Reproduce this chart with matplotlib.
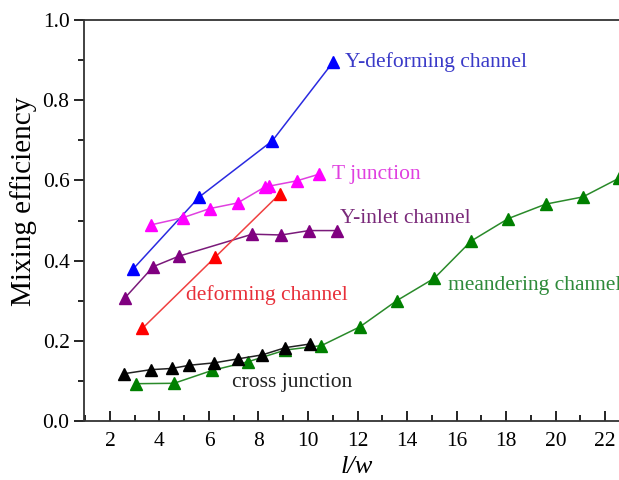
import matplotlib.pyplot as plt
from matplotlib.ticker import MultipleLocator

plt.rcParams['font.family'] = ['Liberation Serif', 'DejaVu Serif']

# data
y_def_x = [2.92, 5.61, 8.56, 11.02]
y_def_y = [0.378, 0.559, 0.699, 0.896]

t_junc_x = [3.64, 4.94, 6.04, 7.16, 8.26, 8.44, 9.54, 10.46]
t_junc_y = [0.489, 0.507, 0.530, 0.544, 0.584, 0.586, 0.599, 0.616]

y_inlet_x = [2.62, 3.75, 4.78, 7.75, 8.92, 10.04, 11.16]
y_inlet_y = [0.308, 0.385, 0.411, 0.466, 0.464, 0.475, 0.475]

deform_x = [3.31, 6.24, 8.87]
deform_y = [0.231, 0.408, 0.567]

cross_x = [2.58, 3.65, 4.5, 5.21, 6.21, 7.18, 8.16, 9.09, 10.08]
cross_y = [0.118, 0.128, 0.131, 0.139, 0.145, 0.155, 0.165, 0.183, 0.192]

meander_x = [3.07, 4.59, 6.12, 7.59, 9.09, 10.54, 12.1, 13.58, 15.1, 16.59, 18.09, 19.6, 21.1, 22.54]
meander_y = [0.093, 0.094, 0.126, 0.148, 0.177, 0.188, 0.235, 0.300, 0.356, 0.449, 0.505, 0.541, 0.559, 0.605]

fig = plt.figure(figsize=(6.19, 4.8), dpi=100)
# axes runs past the right edge, the reference is cropped there
ax = fig.add_axes([0.136, 0.123, 0.92, 0.835])

ms = 8
ax.plot(y_def_x, y_def_y, '-^', color='#2a2ae0', mfc='#0000ff', mec='#0000ff', lw=1.1, ms=ms)
ax.plot(t_junc_x, t_junc_y, '-^', color='#e040e0', mfc='#ff00ff', mec='#ff00ff', lw=1.1, ms=ms)
ax.plot(y_inlet_x, y_inlet_y, '-^', color='#7a1a7a', mfc='#800080', mec='#800080', lw=1.1, ms=ms)
ax.plot(deform_x, deform_y, '-^', color='#f04040', mfc='#ff0000', mec='#ff0000', lw=1.1, ms=ms)
ax.plot(meander_x, meander_y, '-^', color='#2a8a2a', mfc='#008000', mec='#008000', lw=1.1, ms=ms)
ax.plot(cross_x, cross_y, '-^', color='#222222', mfc='black', mec='black', lw=1.1, ms=ms)

# labels next to the curves (the green one runs off the edge, as in the original)
fs = 15.5
ax.text(11.5, 0.895, 'Y-deforming channel', color='#3a3ac8', fontsize=fs, va='center')
ax.text(10.97, 0.616, 'T junction', color='#e040e0', fontsize=fs, va='center')
ax.text(11.3, 0.506, 'Y-inlet channel', color='#7a2a7a', fontsize=fs, va='center')
ax.text(5.07, 0.314, 'deforming channel', color='#e8303a', fontsize=fs, va='center')
ax.text(15.66, 0.339, 'meandering channel', color='#2e8a3a', fontsize=fs, va='center')
ax.text(6.93, 0.095, 'cross junction', color='#222222', fontsize=fs, va='center')

ax.set_xlim(0.96, 23.96)
ax.set_ylim(0, 1.0)
ax.xaxis.set_major_locator(MultipleLocator(2))
ax.xaxis.set_minor_locator(MultipleLocator(1))
ax.yaxis.set_major_locator(MultipleLocator(0.2))
ax.yaxis.set_minor_locator(MultipleLocator(0.1))
ax.xaxis.set_major_formatter(plt.FuncFormatter(lambda v, p: '%d' % v))
ax.yaxis.set_major_formatter(plt.FuncFormatter(lambda v, p: '%.1f' % v))
ax.tick_params(axis='x', which='both', direction='in', labelsize=15.5, pad=8)
ax.tick_params(axis='y', which='both', direction='out', labelsize=15.5)
ax.tick_params(which='major', length=7, width=1.2)
ax.tick_params(which='minor', length=4, width=1.2)
ax.xaxis.set_ticks_position('bottom')
ax.yaxis.set_ticks_position('left')
for s in ax.spines.values():
    s.set_linewidth(1.3)
    s.set_color('#333333')

ax.set_ylabel('Mixing efficiency', fontsize=21, va='center')
ax.yaxis.set_label_coords(-0.107, 0.549)
ax.set_xlabel('l/w', fontsize=19, style='italic', va='center')
ax.xaxis.set_label_coords(0.479, -0.115)

fig.savefig('out.png', dpi=100)
